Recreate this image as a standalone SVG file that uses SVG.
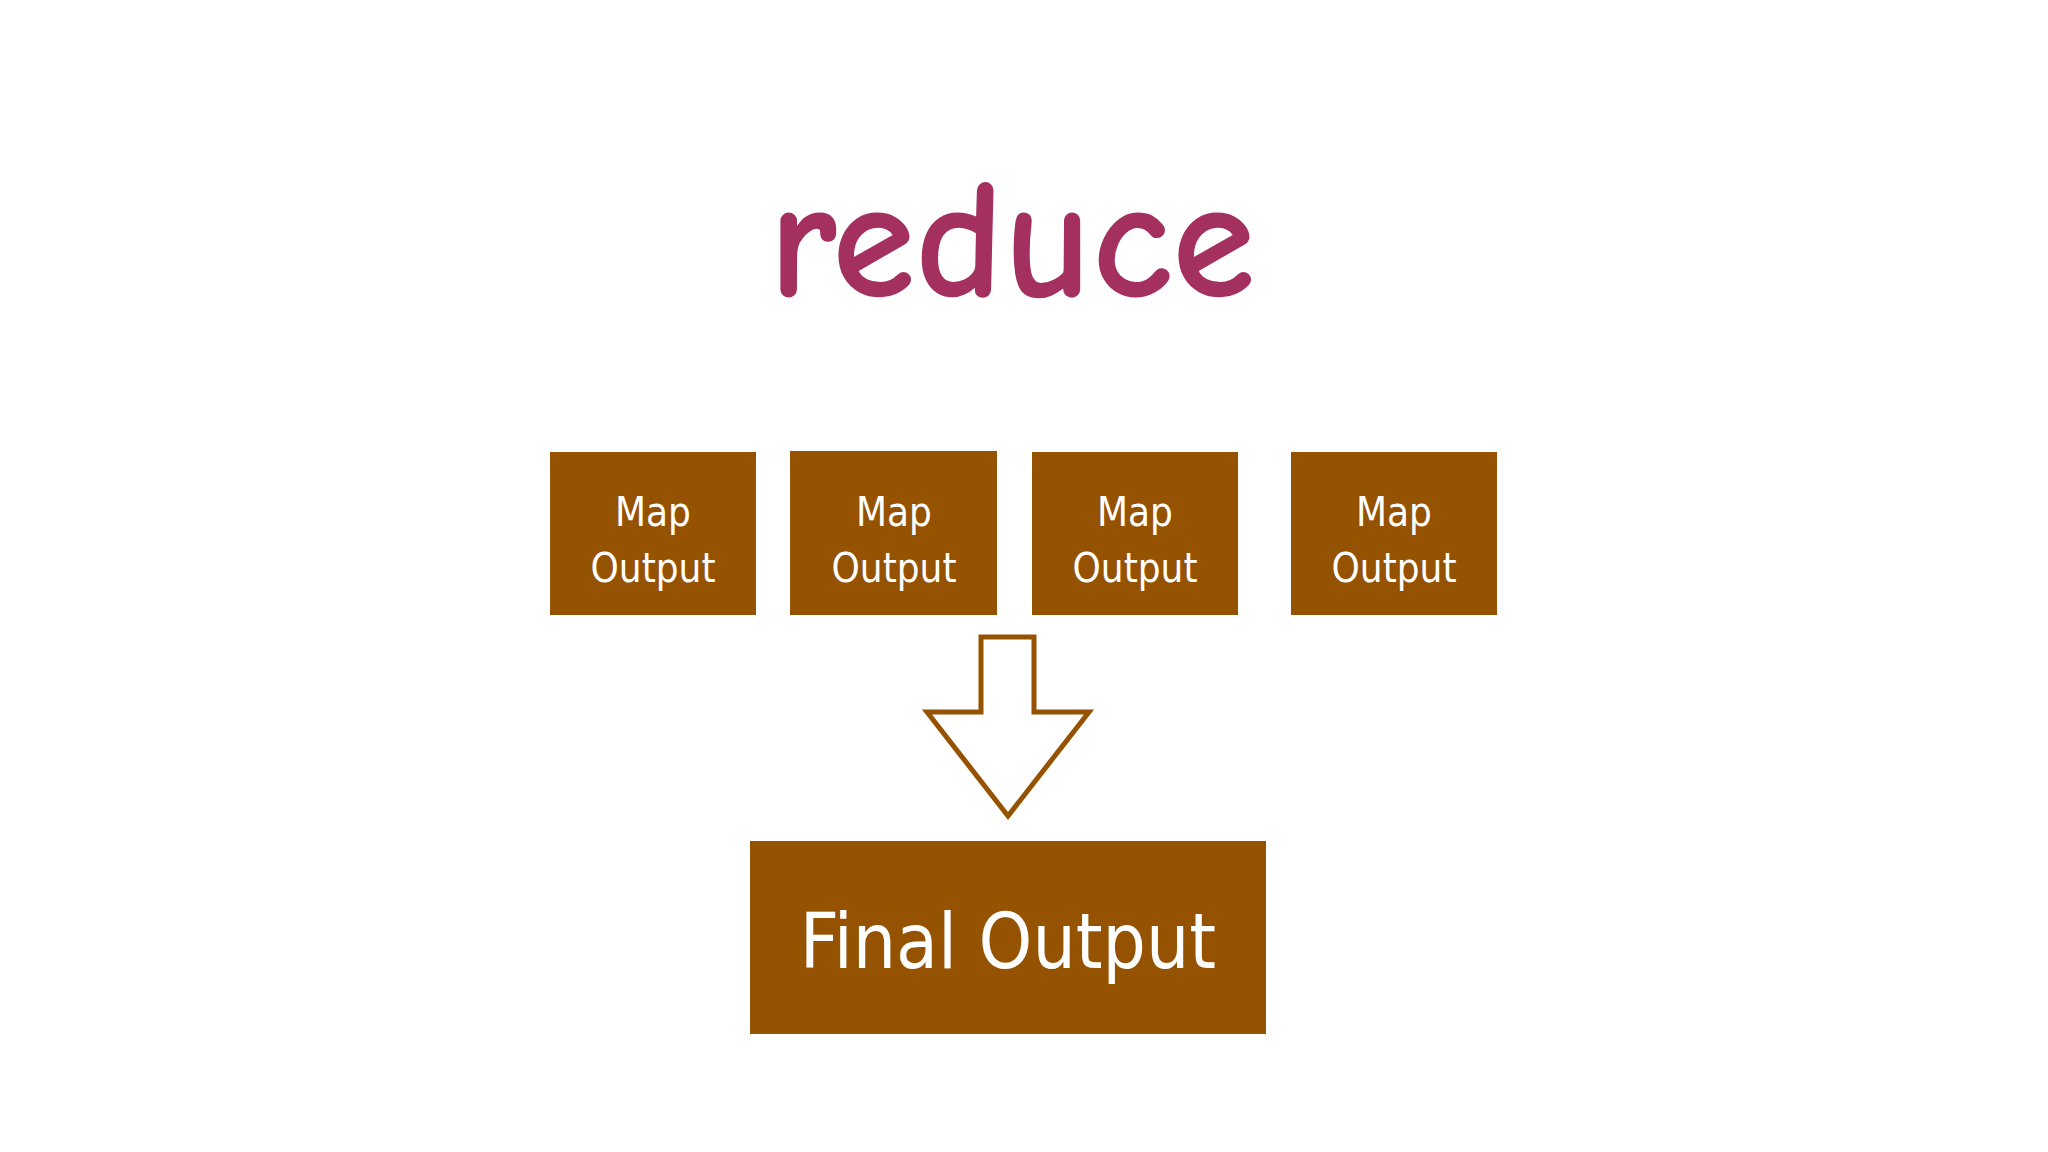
<svg xmlns="http://www.w3.org/2000/svg" width="2048" height="1152" viewBox="0 0 2048 1152">
<style>
.box{fill:#955200}
.t{fill:#fff;font-family:"Liberation Sans Narrow","DejaVu Sans Condensed","Liberation Sans",sans-serif;text-anchor:middle;font-weight:300}
.s{font-size:40px}
</style>
<rect width="2048" height="1152" fill="#fff"/>
<text x="1012" y="296" font-family="'Comic Neue','DejaVu Sans',sans-serif" font-size="170" font-weight="bold" fill="#A3305E" text-anchor="middle">reduce</text>
<g id="map1"><rect class="box" x="550" y="452" width="206" height="163"/><text class="t s" x="653" y="526">Map</text><text class="t s" x="653" y="582">Output</text></g>
<g id="map2"><rect class="box" x="790" y="451" width="207" height="164"/><text class="t s" x="894" y="526">Map</text><text class="t s" x="894" y="582">Output</text></g>
<g id="map3"><rect class="box" x="1032" y="452" width="206" height="163"/><text class="t s" x="1135" y="526">Map</text><text class="t s" x="1135" y="582">Output</text></g>
<g id="map4"><rect class="box" x="1291" y="452" width="206" height="163"/><text class="t s" x="1394" y="526">Map</text><text class="t s" x="1394" y="582">Output</text></g>
<g id="connectors"><polygon points="981,637 1034,637 1034,712 1089,712 1008,816 927,712 981,712" fill="#fff" stroke="#955200" stroke-width="5"/></g>
<g id="final"><rect class="box" x="750" y="841" width="516" height="193"/><text class="t" x="1008" y="968" font-size="76">Final Output</text></g>
</svg>
